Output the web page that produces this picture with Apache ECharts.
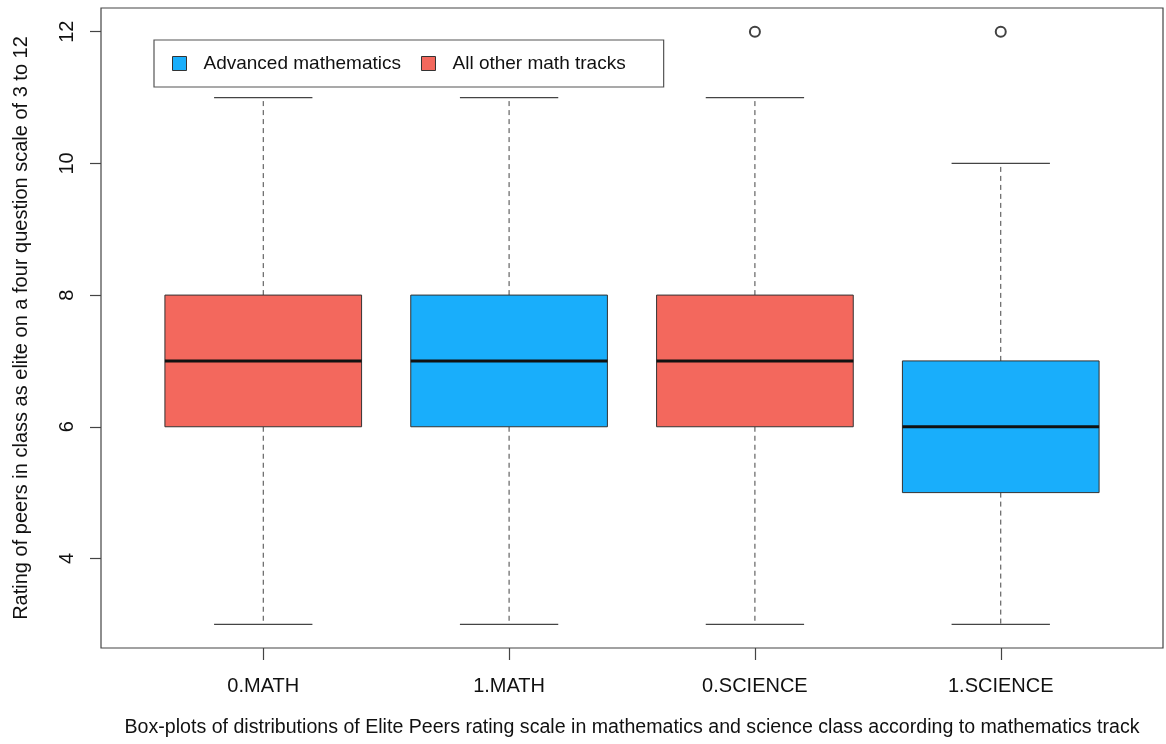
<!DOCTYPE html>
<html>
<head>
<meta charset="utf-8">
<script src="https://cdn.jsdelivr.net/npm/echarts@6/dist/echarts.min.js"></script>
<style>
  html, body { margin: 0; padding: 0; background: #fff; }
  #main { width: 1166px; height: 744px; }
</style>
</head>
<body>
<div id="main"></div>
<script>
  // box-plot summary per group
  const categories = ['0.MATH', '1.MATH', '0.SCIENCE', '1.SCIENCE']
  const groupTrack = ['All other math tracks', 'Advanced mathematics', 'All other math tracks', 'Advanced mathematics']
  const mins = [3, 3, 3, 3]
  const q1s = [6, 6, 6, 5]
  const medians = [7, 7, 7, 6]
  const q3s = [8, 8, 8, 7]
  const maxs = [11, 11, 11, 10]
  const outlierGroups = ['0.SCIENCE', '1.SCIENCE']
  const outlierValues = [12, 12]
  const yTicks = [4, 6, 8, 10, 12]
  const trackNames = ['Advanced mathematics', 'All other math tracks']
  const trackColors = { 'Advanced mathematics': '#19AEFB', 'All other math tracks': '#F3685D' }

  const FONT = 'Liberation Sans, Arial, sans-serif'
  const BOX_W = 0.8
  const CAP_W = 0.4

  // R style axis ranges: data range padded by 4% each side
  const xLo = 0.5, xHi = categories.length + 0.5
  const xPad = (xHi - xLo) * 0.04
  const yLo = 3, yHi = 12
  const yPad = (yHi - yLo) * 0.04

  function boxData(track) {
    const out = []
    categories.forEach((c, i) => {
      if (groupTrack[i] === track) out.push([i + 1, mins[i], q1s[i], medians[i], q3s[i], maxs[i]])
    })
    return out
  }

  function renderBox(params, api) {
    const x = api.value(0)
    const pLo = api.coord([x, api.value(1)])
    const pQ1 = api.coord([x, api.value(2)])
    const pMed = api.coord([x, api.value(3)])
    const pQ3 = api.coord([x, api.value(4)])
    const pHi = api.coord([x, api.value(5)])
    const unit = api.size([1, 0])[0]
    const half = unit * BOX_W / 2
    const cap = unit * CAP_W / 2
    const dash = { stroke: '#444', lineWidth: 1, lineDash: [5, 4] }
    const solid = { stroke: '#444', lineWidth: 1.2 }
    return {
      type: 'group',
      children: [
        { type: 'line', shape: { x1: pQ3[0], y1: pQ3[1], x2: pHi[0], y2: pHi[1] }, style: dash },
        { type: 'line', shape: { x1: pQ1[0], y1: pQ1[1], x2: pLo[0], y2: pLo[1] }, style: dash },
        { type: 'line', shape: { x1: pHi[0] - cap, y1: pHi[1], x2: pHi[0] + cap, y2: pHi[1] }, style: solid },
        { type: 'line', shape: { x1: pLo[0] - cap, y1: pLo[1], x2: pLo[0] + cap, y2: pLo[1] }, style: solid },
        {
          type: 'rect',
          shape: { x: pQ3[0] - half, y: pQ3[1], width: half * 2, height: pQ1[1] - pQ3[1] },
          style: { fill: api.visual('color'), stroke: '#333', lineWidth: 1 },
        },
        {
          type: 'line',
          shape: { x1: pMed[0] - half, y1: pMed[1], x2: pMed[0] + half, y2: pMed[1] },
          style: { stroke: '#111', lineWidth: 3 },
        },
      ],
    }
  }

  const chart = echarts.init(document.getElementById('main'))

  const option = {
    animation: false,
    backgroundColor: '#fff',
    textStyle: { fontFamily: FONT },
    grid: {
      left: 101, right: 3, top: 8, bottom: 96,
      show: true, borderColor: '#444', borderWidth: 1.2, backgroundColor: 'transparent',
    },
    legend: {
      data: trackNames,
      left: 154, top: 40,
      icon: 'rect',
      itemWidth: 14, itemHeight: 14, itemGap: 20,
      padding: [14, 38, 14, 18],
      borderColor: '#555', borderWidth: 1.2,
      itemStyle: { borderColor: '#333', borderWidth: 1 },
      textStyle: { fontSize: 19, color: '#111', fontFamily: FONT, padding: [0, 0, 0, 12] },
    },
    xAxis: {
      type: 'value',
      min: xLo - xPad, max: xHi + xPad,
      name: 'Box-plots of distributions of Elite Peers rating scale in mathematics and science class according to mathematics track',
      nameLocation: 'middle', nameGap: 70,
      nameTextStyle: { fontSize: 19.6, color: '#111', fontFamily: FONT },
      axisLine: { show: false },
      splitLine: { show: false },
      axisTick: { show: true, length: 12, lineStyle: { color: '#444', width: 1.2 }, customValues: categories.map((c, i) => i + 1) },
      axisLabel: {
        customValues: categories.map((c, i) => i + 1),
        formatter: (v) => categories[Math.round(v) - 1] || '',
        fontSize: 20, color: '#111', margin: 28, fontFamily: FONT,
      },
    },
    yAxis: {
      type: 'value',
      min: yLo - yPad, max: yHi + yPad,
      name: 'Rating of peers in class as elite on a four question scale of 3 to 12',
      nameLocation: 'middle', nameGap: 70,
      nameTextStyle: { fontSize: 20, color: '#111', fontFamily: FONT },
      axisLine: { show: false },
      splitLine: { show: false },
      axisTick: { show: true, length: 11, lineStyle: { color: '#444', width: 1.2 }, customValues: yTicks },
      axisLabel: {
        customValues: yTicks,
        rotate: 90, fontSize: 20, color: '#111', margin: 24, fontFamily: FONT,
      },
    },
    series: [
      ...trackNames.map((name) => ({
        name,
        type: 'custom',
        renderItem: renderBox,
        itemStyle: { color: trackColors[name] },
        encode: { x: 0, y: [1, 2, 3, 4, 5] },
        data: boxData(name),
        z: 2,
      })),
      {
        name: 'outliers',
        type: 'scatter',
        symbol: 'emptyCircle',
        symbolSize: 10,
        itemStyle: { color: '#111', borderWidth: 1.6 },
        data: outlierGroups.map((g, i) => [categories.indexOf(g) + 1, outlierValues[i]]),
        z: 3,
      },
    ],
  }

  chart.setOption(option)
</script>
</body>
</html>
